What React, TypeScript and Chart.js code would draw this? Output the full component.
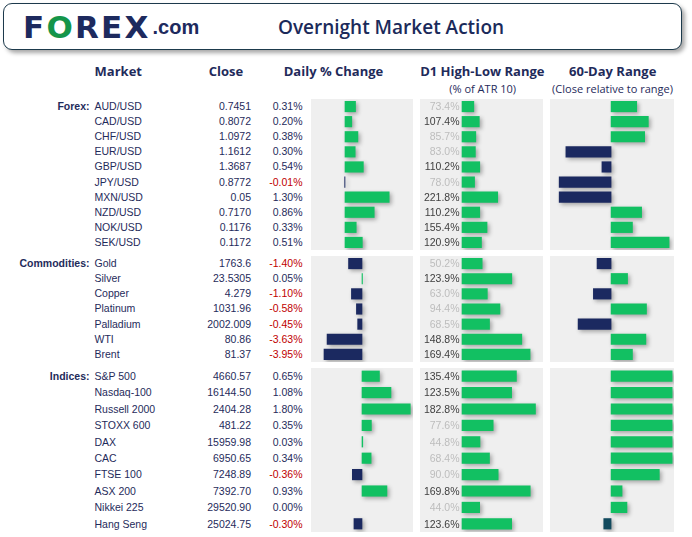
import React, { useEffect, useRef } from "react";
import { Chart, registerables } from "chart.js";

Chart.register(...registerables);

// ---------- DATA ----------
const forexMarkets = ["AUD/USD", "CAD/USD", "CHF/USD", "EUR/USD", "GBP/USD", "JPY/USD", "MXN/USD", "NZD/USD", "NOK/USD", "SEK/USD"];
const forexClose = ["0.7451", "0.8072", "1.0972", "1.1612", "1.3687", "0.8772", "0.05", "0.7170", "0.1176", "0.1172"];
const forexDaily = [0.31, 0.2, 0.38, 0.3, 0.54, -0.01, 1.3, 0.86, 0.33, 0.51];
const forexD1 = [73.4, 107.4, 85.7, 83.0, 110.2, 78.0, 221.8, 110.2, 155.4, 120.9];
const forexRange60 = [42, 61, 55, -74, -15, -85, -85, 50, 35, 95];

const commodMarkets = ["Gold", "Silver", "Copper", "Platinum", "Palladium", "WTI", "Brent"];
const commodClose = ["1763.6", "23.5305", "4.279", "1031.96", "2002.009", "80.86", "81.37"];
const commodDaily = [-1.4, 0.05, -1.1, -0.58, -0.45, -3.63, -3.95];
const commodD1 = [50.2, 123.9, 63.0, 94.4, 68.5, 148.8, 169.4];
const commodRange60 = [-23, 27, -29, 58, -54, 57, 35];

const indexMarkets = ["S&P 500", "Nasdaq-100", "Russell 2000", "STOXX 600", "DAX", "CAC", "FTSE 100", "ASX 200", "Nikkei 225", "Hang Seng"];
const indexClose = ["4660.57", "16144.50", "2404.28", "481.22", "15959.98", "6950.65", "7248.89", "7392.70", "29520.90", "25024.75"];
const indexDaily = [0.65, 1.08, 1.8, 0.35, 0.03, 0.34, -0.36, 0.93, 0.0, -0.3];
const indexD1 = [135.4, 123.5, 182.8, 77.6, 44.8, 68.4, 90.0, 169.8, 44.0, 123.6];
const indexRange60 = [100, 100, 100, 100, 100, 100, 79, 18, 26, -12];

const headerTitle = "Overnight Market Action";
const columnTitles = ["Market", "Close", "Daily % Change", "D1 High-Low Range", "60-Day Range"];
const columnSubtitles = ["(% of ATR 10)", "(Close relative to range)"];

// ---------- STYLE ----------
const GREEN = "#12c062";
const NAVY = "#1b2960";
const TEAL = "#124a5e";
const TEXT = "#1f2b5b";
const RED = "#c00000";
const PANEL = "#efefef";
const ROW_FONT = "'Liberation Sans', Arial, sans-serif";
const HEAD_FONT = "'Open Sans', 'Noto Sans', sans-serif";

type Group = {
  title: string;
  markets: string[];
  close: string[];
  daily: number[];
  d1: number[];
  r60: number[];
  r60Colors?: (string | null)[];
  top: number;
  height: number;
  dailyMin: number;
  dailyMax: number;
  d1Min: number;
  d1Max: number;
};

const groups: Group[] = [
  {
    title: "Forex:", markets: forexMarkets, close: forexClose, daily: forexDaily, d1: forexD1, r60: forexRange60,
    top: 99, height: 151, dailyMin: -1, dailyMax: 2, d1Min: -261, d1Max: 503,
  },
  {
    title: "Commodities:", markets: commodMarkets, close: commodClose, daily: commodDaily, d1: commodD1, r60: commodRange60,
    top: 256, height: 106, dailyMin: -5.3, dailyMax: 5.3, d1Min: -104.5, d1Max: 201.5,
  },
  {
    title: "Indices:", markets: indexMarkets, close: indexClose, daily: indexDaily, d1: indexD1, r60: indexRange60,
    r60Colors: [null, null, null, null, null, null, null, null, null, TEAL],
    top: 368, height: 164, dailyMin: -1.9, dailyMax: 1.9, d1Min: -104.5, d1Max: 201.5,
  },
];

const PANEL1 = { left: 311, width: 102 };
const PANEL2 = { left: 420, width: 123 };
const PANEL3 = { left: 550, width: 124 };
const R60_MIN = -100;
const R60_MAX = 103;

const shadowPlugin = {
  id: "barShadow",
  beforeDatasetsDraw(chart: any) {
    const ctx = chart.ctx;
    ctx.save();
    ctx.shadowColor = "rgba(0,0,0,0.32)";
    ctx.shadowBlur = 4;
    ctx.shadowOffsetX = 2;
    ctx.shadowOffsetY = 2;
  },
  afterDatasetsDraw(chart: any) {
    chart.ctx.restore();
  },
};

function barColor(v: number, override?: string | null) {
  if (v === 0) return "rgba(0,0,0,0)";
  if (override) return override;
  return v < 0 ? NAVY : GREEN;
}

function BarPanel(props: {
  labels: string[];
  values: number[];
  colors: string[];
  min: number;
  max: number;
  left: number;
  top: number;
  width: number;
  height: number;
}) {
  const ref = useRef<HTMLCanvasElement>(null);
  const { labels, values, colors, min, max, left, top, width, height } = props;
  useEffect(() => {
    const chart = new Chart(ref.current as HTMLCanvasElement, {
      type: "bar",
      data: {
        labels,
        datasets: [
          {
            data: values,
            backgroundColor: colors,
            borderWidth: 0,
            barThickness: 10.5,
            clip: false as any,
          },
        ],
      },
      options: {
        indexAxis: "y",
        responsive: false,
        maintainAspectRatio: false,
        animation: false,
        events: [],
        layout: { padding: 0 },
        plugins: { legend: { display: false }, tooltip: { enabled: false } },
        scales: {
          x: { type: "linear", min, max, display: false },
          y: { type: "category", display: false, offset: true },
        },
      },
      plugins: [shadowPlugin],
    });
    return () => chart.destroy();
  }, []);
  return (
    <canvas
      ref={ref}
      width={width}
      height={height}
      style={{ position: "absolute", left, top, width, height, background: PANEL, display: "block" }}
    />
  );
}

function Txt(props: { x: number; y: number; h: number; align: "left" | "right" | "center"; children: any; style?: any }) {
  const { x, y, h, align, children, style } = props;
  const w = 300;
  const left = align === "left" ? x : align === "right" ? x - w : x - w / 2;
  return (
    <div
      style={{
        position: "absolute",
        left,
        top: y - h / 2,
        width: w,
        height: h,
        lineHeight: h + "px",
        textAlign: align,
        whiteSpace: "nowrap",
        ...style,
      }}
    >
      {children}
    </div>
  );
}

function GroupBlock({ g }: { g: Group }) {
  const n = g.markets.length;
  const rowH = g.height / n;
  const rowY = (i: number) => g.top + (i + 0.5) * rowH;
  const rowStyle = { fontFamily: ROW_FONT, fontSize: "10.5px", color: TEXT };
  return (
    <>
      <Txt x={89.5} y={rowY(0)} h={rowH} align="right" style={{ ...rowStyle, fontWeight: "bold" }}>
        {g.title}
      </Txt>
      {g.markets.map((m, i) => (
        <React.Fragment key={m}>
          <Txt x={94.5} y={rowY(i)} h={rowH} align="left" style={rowStyle}>{m}</Txt>
          <Txt x={251} y={rowY(i)} h={rowH} align="right" style={rowStyle}>{g.close[i]}</Txt>
          <Txt x={302.5} y={rowY(i)} h={rowH} align="right" style={{ ...rowStyle, color: g.daily[i] < 0 ? RED : TEXT }}>
            {g.daily[i].toFixed(2) + "%"}
          </Txt>
        </React.Fragment>
      ))}
      <BarPanel
        labels={g.markets}
        values={g.daily}
        colors={g.daily.map((v) => barColor(v))}
        min={g.dailyMin}
        max={g.dailyMax}
        left={PANEL1.left}
        top={g.top}
        width={PANEL1.width}
        height={g.height}
      />
      <BarPanel
        labels={g.markets}
        values={g.d1}
        colors={g.d1.map((v) => barColor(v))}
        min={g.d1Min}
        max={g.d1Max}
        left={PANEL2.left}
        top={g.top}
        width={PANEL2.width}
        height={g.height}
      />
      <BarPanel
        labels={g.markets}
        values={g.r60}
        colors={g.r60.map((v, i) => barColor(v, g.r60Colors ? g.r60Colors[i] : null))}
        min={R60_MIN}
        max={R60_MAX}
        left={PANEL3.left}
        top={g.top}
        width={PANEL3.width}
        height={g.height}
      />
      {g.d1.map((v, i) => (
        <Txt
          key={"d1" + i}
          x={459.5}
          y={rowY(i)}
          h={rowH}
          align="right"
          style={{ ...rowStyle, color: v >= 100 ? "#404040" : "#bdbdbd" }}
        >
          {v.toFixed(1) + "%"}
        </Txt>
      ))}
    </>
  );
}

export default function App() {
  const headStyle = { fontFamily: HEAD_FONT, fontSize: "13px", fontWeight: 700, color: TEXT };
  const subStyle = { fontFamily: HEAD_FONT, fontSize: "11px", color: TEXT };
  const colCenters = [118.3, 226, 333.5, 482.3, 612.7];
  return (
    <div style={{ position: "fixed", left: 0, top: 0, width: 692, height: 537, background: "#fff", overflow: "hidden" }}>
      {/* header box */}
      <div
        style={{
          position: "absolute",
          left: 3,
          top: 3,
          width: 677,
          height: 45,
          border: "1.5px solid #1d3a4c",
          borderRadius: 9,
          boxShadow: "3px 3px 4px rgba(0,0,0,0.35)",
          background: "#fff",
        }}
      />
      <div
        style={{
          position: "absolute",
          left: 23,
          top: 7,
          height: 40,
          lineHeight: "40px",
          fontFamily: "'DejaVu Sans', sans-serif",
          fontWeight: "bold",
          fontSize: "31px",
          letterSpacing: "2.2px",
          color: "#1d2a5e",
          whiteSpace: "nowrap",
        }}
      >
        <span>F</span>
        <span style={{ color: "#14954a" }}>O</span>
        <span>REX</span>
        <span
          style={{
            fontFamily: "'Liberation Sans', Arial, sans-serif",
            fontSize: "20px",
            letterSpacing: "0px",
            position: "relative",
            top: -4,
            marginLeft: 2,
          }}
        >
          .com
        </span>
      </div>
      <Txt x={391} y={27} h={30} align="center" style={{ fontFamily: HEAD_FONT, fontSize: "19px", fontWeight: 600, color: "#1b2a5a" }}>
        {headerTitle}
      </Txt>
      {columnTitles.map((t, i) => (
        <Txt key={t} x={colCenters[i]} y={71.3} h={18} align="center" style={headStyle}>
          {t}
        </Txt>
      ))}
      <Txt x={482.7} y={89} h={14} align="center" style={subStyle}>{columnSubtitles[0]}</Txt>
      <Txt x={612.5} y={89} h={14} align="center" style={subStyle}>{columnSubtitles[1]}</Txt>
      {groups.map((g) => (
        <GroupBlock key={g.title} g={g} />
      ))}
    </div>
  );
}
